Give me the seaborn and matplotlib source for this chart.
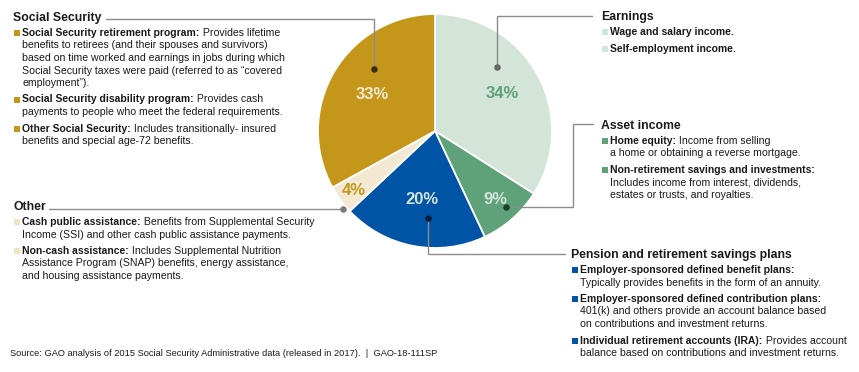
import numpy as np
import matplotlib
matplotlib.use("Agg")
import matplotlib.pyplot as plt
import seaborn as sns

# slices, clockwise from 12 o'clock
categories = ["Earnings", "Asset income", "Pension and retirement savings plans",
              "Other", "Social Security"]
shares = [34, 9, 20, 4, 33]
slice_colors = ["#d3e4d8", "#5fa27a", "#0054a6", "#f3e9d3", "#c4961a"]
pct_colors = ["#5fa27a", "#d3e4d8", "#d3e4d8", "#c4961a", "#f3e9d3"]

# legend text blocks: (bold part, rest of first line, following lines)
social_security = [
    ("Social Security retirement program:", " Provides lifetime",
     ["benefits to retirees (and their spouses and survivors)",
      "based on time worked and earnings in jobs during which",
      "Social Security taxes were paid (referred to as \u201ccovered",
      "employment\u201d)."]),
    ("Social Security disability program:", " Provides cash",
     ["payments to people who meet the federal requirements."]),
    ("Other Social Security:", " Includes transitionally- insured",
     ["benefits and special age-72 benefits."]),
]
other = [
    ("Cash public assistance:", " Benefits from Supplemental Security",
     ["Income (SSI) and other cash public assistance payments."]),
    ("Non-cash assistance:", " Includes Supplemental Nutrition",
     ["Assistance Program (SNAP) benefits, energy assistance,",
      "and housing assistance payments."]),
]
earnings = [
    ("Wage and salary income.", "", []),
    ("Self-employment income.", "", []),
]
asset_income = [
    ("Home equity:", " Income from selling",
     ["a home or obtaining a reverse mortgage."]),
    ("Non-retirement savings and investments:", "",
     ["Includes income from interest, dividends,",
      "estates or trusts, and royalties."]),
]
pension = [
    ("Employer-sponsored defined benefit plans:", "",
     ["Typically provides benefits in the form of an annuity."]),
    ("Employer-sponsored defined contribution plans:", "",
     ["401(k) and others provide an account balance based",
      "on contributions and investment returns."]),
    ("Individual retirement accounts (IRA):", " Provides account",
     ["balance based on contributions and investment returns."]),
]
source_note = ("Source: GAO analysis of 2015 Social Security Administrative data "
               "(released in 2017).  |  GAO-18-111SP")

sns.set_theme(style="white")
plt.rcParams["font.family"] = ["Liberation Sans", "DejaVu Sans"]

W, H = 859, 372
fig = plt.figure(figsize=(W / 100, H / 100), dpi=100)
ax = fig.add_axes([0, 0, 1, 1])
ink = "#1a1a1a"
line_c = "#8c8c8c"
head_fs = 8.8
body_fs = 7.6
bold_fs = 7.45
lh = 12.5


def Y(y):
    return H - y


cx, cy, R = 435, 131, 117
wedges, _ = ax.pie(shares, colors=slice_colors, startangle=90, counterclock=False,
                   radius=R, center=(cx, Y(cy)),
                   wedgeprops=dict(edgecolor="white", linewidth=1.3))
ax.set_xlim(0, W)
ax.set_ylim(0, H)
ax.set_aspect("equal")
ax.axis("off")

# percentage labels: radial fraction per slice
pct_r = [0.66, 0.78, 0.60, 0.86, 0.62]
for w, s, r, c in zip(wedges, shares, pct_r, pct_colors):
    a = np.deg2rad((w.theta1 + w.theta2) / 2)
    ax.text(cx + r * R * np.cos(a), Y(cy) + r * R * np.sin(a), f"{s}%",
            ha="center", va="center", fontsize=12, fontweight="bold", color=c)

renderer = fig.canvas.get_renderer()


def block(x, y, title, items, color):
    ax.text(x, Y(y), title, fontsize=head_fs, fontweight="bold", color=ink,
            va="center", ha="left")
    y += 15
    for bold, rest, lines in items:
        ax.scatter([x + 3.5], [Y(y)], marker="s", s=13, color=color, lw=0)
        tx = x + 9.5
        t = ax.text(tx, Y(y), bold, fontsize=bold_fs, fontweight="bold",
                    color=ink, va="center", ha="left")
        if rest:
            bw = t.get_window_extent(renderer).width
            ax.text(tx + bw, Y(y), rest, fontsize=body_fs, color=ink,
                    va="center", ha="left")
        for ln in lines:
            y += lh
            ax.text(tx, Y(y), ln, fontsize=body_fs, color=ink, va="center", ha="left")
        y += lh + 4


block(13, 18, "Social Security", social_security, slice_colors[4])
block(13, 207, "Other", other, "#efe3c6")
block(601, 17, "Earnings", earnings, slice_colors[0])
block(601, 126, "Asset income", asset_income, slice_colors[1])
block(571, 255, "Pension and retirement savings plans", pension, slice_colors[2])


def leader(pts, dot, dot_c):
    xs = [p[0] for p in pts]
    ys = [Y(p[1]) for p in pts]
    ax.plot(xs, ys, color=line_c, lw=1.0, solid_joinstyle="miter")
    ax.scatter([dot[0]], [Y(dot[1])], s=22, color=dot_c, zorder=5, lw=0)


leader([(106, 19), (374, 19), (374, 69)], (374, 69), "#3b2f12")
leader([(592, 16), (497, 16), (497, 67)], (497, 67), "#666666")
leader([(593, 124), (573, 124), (573, 207), (506, 207)], (506, 207), "#1e3d2c")
leader([(428, 218), (428, 254), (565, 254)], (428, 218), "#0b1b3f")
leader([(49, 209), (343, 209)], (343, 209), "#7a7a7a")

ax.text(10, Y(354), source_note, fontsize=6.7, color=ink, va="center", ha="left")

fig.savefig("out.png", dpi=100, facecolor="white")
